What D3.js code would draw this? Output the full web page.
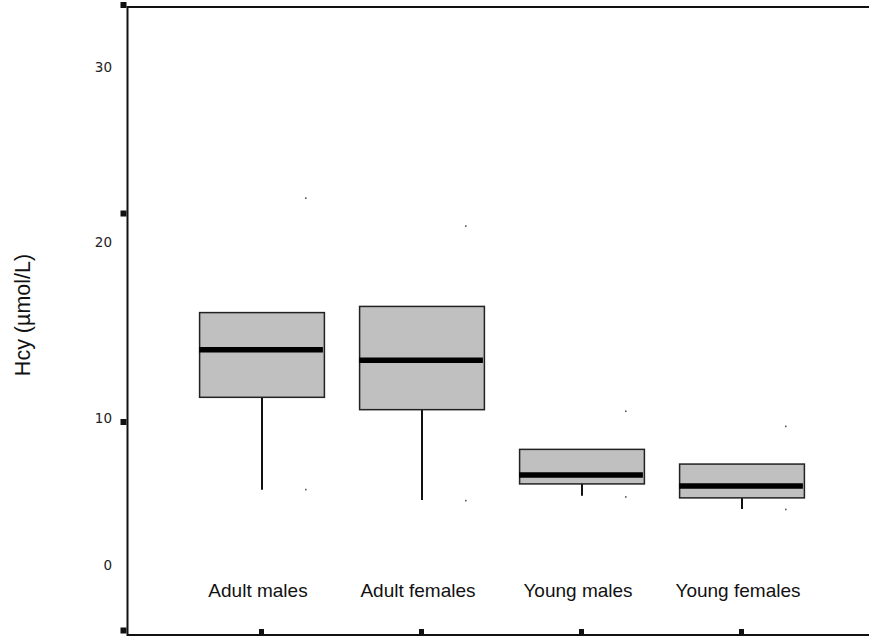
<!DOCTYPE html>
<html>
<head>
<meta charset="utf-8">
<script src="https://cdn.jsdelivr.net/npm/d3@7"></script>
<style>
  body { margin: 0; background: #fff; }
  svg { display: block; }
</style>
</head>
<body>
<svg id="chart" width="869" height="637"></svg>
<script>
// groups and box statistics (Hcy, umol/L)
var groups = ["Adult males", "Adult females", "Young males", "Young females"];
var q1     = [11.2, 10.5, 5.55, 4.6];
var median = [13.9, 13.3, 6.15, 5.4];
var q3     = [16.0, 16.35, 7.9, 6.9];
var whiskerLow = [5.15, 4.45, 4.75, 3.85];
var maxVal = [22.5, 20.9, 10.4, 9.45];
var minVal = [5.15, 4.4, 4.65, 3.8];
var yTickLabels = [0, 10, 20, 30];
var yTitle = "Hcy (\u00b5mol/L)";

var svg = d3.select("#chart");
var frame = {left: 127.5, top: 7, right: 880, bottom: 635};

// y scale as the printed labels place it
var y = d3.scaleLinear().domain([0, 10, 20, 30]).range([565.5, 418.5, 242, 67.5]);
// the square tick marks on the frame sit on an even grid of their own
var tickY = d3.scaleLinear().domain([0, 3]).range([630.5, 5]);
var x = d3.scaleBand().domain(groups).range([182, 822]).paddingInner(0.22).paddingOuter(0.11);

var data = groups.map((g, i) => ({
  g: g, q1: q1[i], med: median[i], q3: q3[i],
  lo: whiskerLow[i], max: maxVal[i], min: minVal[i]
}));

// frame
svg.append("path")
  .attr("d", `M${frame.right},${frame.top}H${frame.left}V${frame.bottom}H${frame.right}`)
  .attr("fill", "none").attr("stroke", "#111").attr("stroke-width", 2);

// y tick squares
svg.selectAll(".ytk").data(d3.range(4)).join("rect")
  .attr("x", frame.left - 7).attr("y", d => tickY(d) - 3)
  .attr("width", 6).attr("height", 6).attr("fill", "#111");

// y labels
svg.selectAll(".ylab").data(yTickLabels).join("text")
  .attr("x", 112).attr("y", d => y(d)).attr("dy", "0.36em")
  .attr("text-anchor", "end")
  .style("font-family", "DejaVu Sans, sans-serif").style("font-size", "13.5px")
  .attr("fill", "#222").text(d => d);

// x tick squares
svg.selectAll(".xtk").data(groups).join("rect")
  .attr("x", d => x(d) + x.bandwidth() / 2 - 3).attr("y", 629)
  .attr("width", 5).attr("height", 5).attr("fill", "#111");

var cx = d => x(d.g) + x.bandwidth() / 2;

// whiskers
svg.selectAll(".wh").data(data).join("line")
  .attr("x1", cx).attr("x2", cx)
  .attr("y1", d => y(d.q1)).attr("y2", d => y(d.lo))
  .attr("stroke", "#111").attr("stroke-width", 2);

// boxes
svg.selectAll(".box").data(data).join("rect")
  .attr("x", d => x(d.g)).attr("width", x.bandwidth())
  .attr("y", d => y(d.q3)).attr("height", d => y(d.q1) - y(d.q3))
  .attr("fill", "#c0c0c0").attr("stroke", "#222").attr("stroke-width", 1.5);

// medians
svg.selectAll(".med").data(data).join("line")
  .attr("x1", d => x(d.g) - 0.5).attr("x2", d => x(d.g) + x.bandwidth() - 1.5)
  .attr("y1", d => y(d.med)).attr("y2", d => y(d.med))
  .attr("stroke", "#000").attr("stroke-width", 5.5);

// small extreme dots beside each box
var dots = [];
data.forEach(d => { dots.push({g: d.g, v: d.max}); dots.push({g: d.g, v: d.min}); });
svg.selectAll(".dot").data(dots).join("rect")
  .attr("x", d => x(d.g) + x.bandwidth() / 2 + 43).attr("y", d => y(d.v) - 1)
  .attr("width", 1.6).attr("height", 1.6).attr("fill", "#555");

// category labels
svg.selectAll(".xlab").data(groups).join("text")
  .attr("x", d => x(d) + x.bandwidth() / 2 - 4).attr("y", 597)
  .attr("text-anchor", "middle")
  .style("font-family", "Liberation Sans, Arial, sans-serif").style("font-size", "19px")
  .attr("fill", "#111").text(d => d);

// y title
svg.append("text")
  .attr("transform", "translate(30,315) rotate(-90)")
  .attr("text-anchor", "middle")
  .style("font-family", "Liberation Sans, Arial, sans-serif").style("font-size", "21.5px")
  .attr("fill", "#111").text(yTitle);
</script>
</body>
</html>
